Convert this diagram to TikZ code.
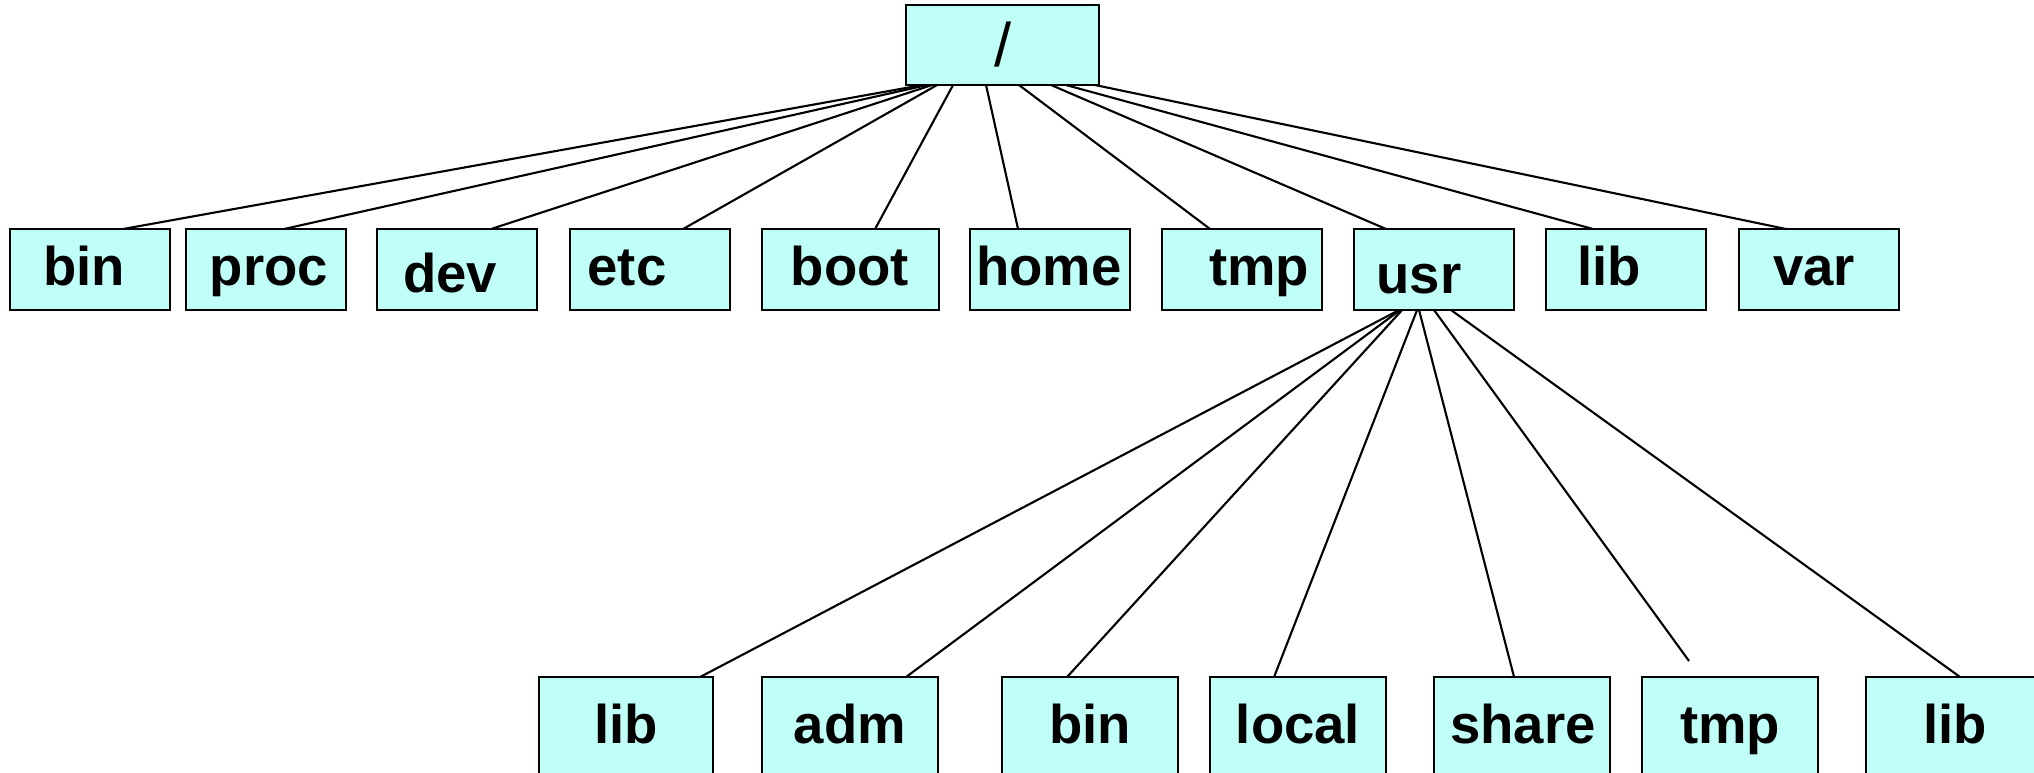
\documentclass[tikz,border=0pt]{standalone}
\usepackage{fontspec}
\setmainfont{Liberation Sans}
\usetikzlibrary{calc}
\definecolor{dirfill}{RGB}{192,255,247}
\tikzset{
  dirbox/.style={draw=black, line width=0.75pt, fill=dirfill, anchor=north west,
                 inner sep=0pt, outer sep=0pt, minimum width=1.6cm, minimum height=0.81cm},
  lowbox/.style={dirbox, minimum width=1.76cm, minimum height=1.3cm},
  dirname/.style={anchor=base, inner sep=0pt, font=\fontsize{15.5}{18}\selectfont\bfseries},
  link/.style={line width=0.6pt, draw=black}
}
\begin{document}
\begin{tikzpicture}[x=0.01cm,y=-0.01cm]
\clip (0,0) rectangle (2034,772);
\fill[white] (0,0) rectangle (2034,772);

% root directory
\node[dirbox, minimum width=1.93cm, minimum height=0.80cm] (root) at (906,5) {};
\node[anchor=base, inner sep=0pt, font=\fontsize{17.5}{20}\selectfont] (t-root) at (1003,66) {/};

% first level
\node[dirbox] (bin)  at (10,229) {};
\node[dirbox] (proc) at (186,229) {};
\node[dirbox] (dev)  at (377,229) {};
\node[dirbox] (etc)  at (570,229) {};
\node[dirbox, minimum width=1.77cm] (boot) at (762,229) {};
\node[dirbox] (home) at (970,229) {};
\node[dirbox] (tmp)  at (1162,229) {};
\node[dirbox] (usr)  at (1354,229) {};
\node[dirbox] (lib)  at (1546,229) {};
\node[dirbox] (var)  at (1739,229) {};

\node[dirname] (t-bin)  at (84,285) {bin};
\node[dirname] (t-proc) at (269,285) {proc};
\node[dirname] (t-dev)  at (450,292) {dev};
\node[dirname] (t-etc)  at (627,285) {etc};
\node[dirname] (t-boot) at (850,285) {boot};
\node[dirname] (t-home) at (1049,285) {home};
\node[dirname] (t-tmp)  at (1259,285) {tmp};
\node[dirname] (t-usr)  at (1419,293) {usr};
\node[dirname] (t-lib)  at (1609,285) {lib};
\node[dirname] (t-var)  at (1814,285) {var};

% second level under usr
\node[lowbox, minimum width=1.74cm] (ulib) at (539,677) {};
\node[lowbox] (uadm)   at (762,677) {};
\node[lowbox] (ubin)   at (1002,677) {};
\node[lowbox] (ulocal) at (1210,677) {};
\node[lowbox] (ushare) at (1434,677) {};
\node[lowbox] (utmp)   at (1642,677) {};
\node[lowbox] (ulib2)  at (1866,677) {};

\node[dirname] (t-ulib)   at (626,743) {lib};
\node[dirname] (t-uadm)   at (850,743) {adm};
\node[dirname] (t-ubin)   at (1090,743) {bin};
\node[dirname] (t-ulocal) at (1298,743) {local};
\node[dirname] (t-ushare) at (1523,743) {share};
\node[dirname] (t-utmp)   at (1730,743) {tmp};
\node[dirname] (t-ulib2)  at (1955,743) {lib};

% links from the root
\draw[link] ([xshift=0.16cm]root.south west) -- ([xshift=1.13cm]bin.north west);
\draw[link] ([xshift=0.21cm]root.south west) -- ([xshift=0.98cm]proc.north west);
\draw[link] ([xshift=0.26cm]root.south west) -- ([xshift=1.14cm]dev.north west);
\draw[link] ([xshift=0.31cm]root.south west) -- ([xshift=1.13cm]etc.north west);
\draw[link] ([xshift=0.47cm]root.south west) -- ([xshift=1.13cm]boot.north west);
\draw[link] ([xshift=0.80cm]root.south west) -- ([xshift=0.48cm]home.north west);
\draw[link] ([xshift=1.13cm]root.south west) -- ([xshift=0.48cm]tmp.north west);
\draw[link] ([xshift=1.45cm]root.south west) -- ([xshift=0.32cm]usr.north west);
\draw[link] ([xshift=1.60cm]root.south west) -- ([xshift=0.47cm]lib.north west);
\draw[link] ([xshift=1.89cm]root.south west) -- ([xshift=0.47cm]var.north west);

% links from usr
\coordinate (tmpend) at (1689,661);
\draw[link] ([xshift=0.45cm]usr.south west) -- ([xshift=1.61cm]ulib.north west);
\draw[link] ([xshift=0.46cm]usr.south west) -- ([xshift=1.44cm]uadm.north west);
\draw[link] ([xshift=0.48cm]usr.south west) -- ([xshift=0.65cm]ubin.north west);
\draw[link] ([xshift=0.63cm]usr.south west) -- ([xshift=0.64cm]ulocal.north west);
\draw[link] ([xshift=0.65cm]usr.south west) -- ([xshift=0.80cm]ushare.north west);
\draw[link] ([xshift=0.80cm]usr.south west) -- (tmpend);
\draw[link] ([xshift=0.97cm]usr.south west) -- ([xshift=0.94cm]ulib2.north west);
\end{tikzpicture}
\end{document}
